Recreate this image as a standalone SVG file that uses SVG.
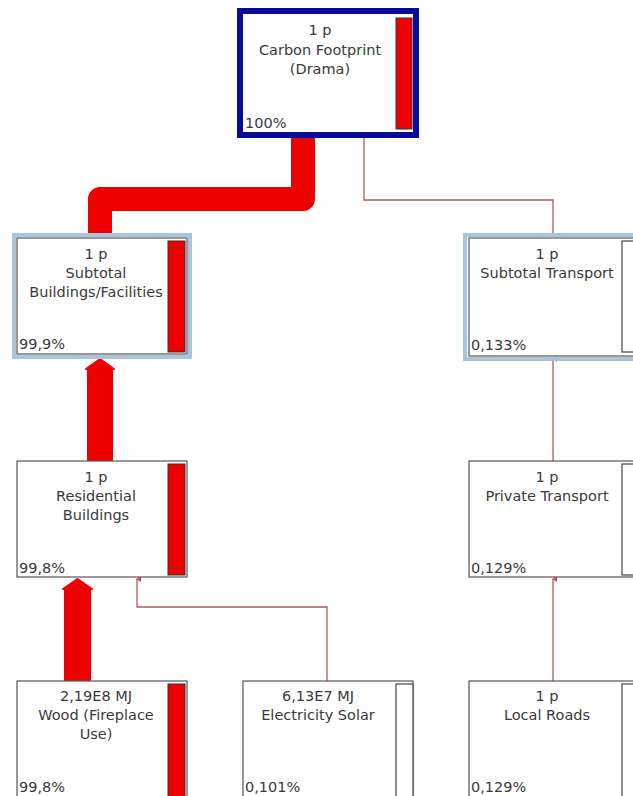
<svg xmlns="http://www.w3.org/2000/svg" width="633" height="796" viewBox="0 0 633 796">
<defs>
<style>
.box{fill:#fff;stroke:#555;stroke-width:1.2}
.bar{fill:#ee0000;stroke:#333;stroke-width:1}
.wbar{fill:#fff;stroke:#444;stroke-width:1.2}
.t{font-family:"DejaVu Sans",Verdana,sans-serif;font-size:14.5px;fill:#3a3a3a;text-anchor:middle}
.p{font-family:"DejaVu Sans",Verdana,sans-serif;font-size:14.5px;fill:#3a3a3a}
.thin{fill:none;stroke:#b05a5a;stroke-width:1.3}
.thick{fill:none;stroke:#ee0000;stroke-width:24;stroke-linejoin:round}
.head{fill:#ee0000;stroke:#ee0000;stroke-width:2;stroke-linejoin:round}
.sel{fill:none;stroke:#a9c4dc;stroke-width:4}
</style>
<marker id="ah" markerWidth="6" markerHeight="6" refX="3" refY="1" orient="auto-start-reverse" markerUnits="userSpaceOnUse">
<path d="M0,5 L3,0 L6,5 Z" fill="#b05a5a"/>
</marker>
</defs>
<rect width="633" height="796" fill="#fff"/>
<g id="connectors">
<path class="thick" d="M303,134 V199 H100 V236"/>
<path class="thin" d="M364,134 V200 H553 V237"/>
<path class="head" d="M88,460 V369 L86,369 L100,359 L114,369 L112,369 V460 Z"/>
<path class="head" d="M65,680 V589 L63,589 L77.5,579 L92,589 L90,589 V680 Z"/>
<path class="thin" d="M327,681 V607 H137 V579" marker-end="url(#ah)"/>
<path class="thin" d="M553,461 V359" marker-end="url(#ah)"/>
<path class="thin" d="M553,681 V579" marker-end="url(#ah)"/>
</g>
<g id="carbon-footprint">
<rect x="240" y="11" width="176" height="124" fill="#fff" stroke="#0a0a9a" stroke-width="6"/>
<rect class="bar" x="396" y="18" width="16" height="111"/>
<text class="t" x="320" y="35">1 p</text>
<text class="t" x="320" y="55">Carbon Footprint</text>
<text class="t" x="320" y="74">(Drama)</text>
<text class="p" x="245" y="128">100%</text>
</g>
<g id="subtotal-buildings">
<rect class="sel" x="14" y="235" width="176" height="122"/>
<rect class="box" x="17" y="238" width="170" height="116"/>
<rect class="bar" x="168" y="241" width="17" height="111"/>
<text class="t" x="96" y="259">1 p</text>
<text class="t" x="96" y="278">Subtotal</text>
<text class="t" x="96" y="297">Buildings/Facilities</text>
<text class="p" x="19" y="349">99,9%</text>
</g>
<g id="subtotal-transport">
<rect class="sel" x="465" y="235" width="176" height="124"/>
<rect class="box" x="469" y="238" width="170" height="118"/>
<rect class="wbar" x="622" y="241" width="17" height="111"/>
<text class="t" x="547" y="259">1 p</text>
<text class="t" x="547" y="278">Subtotal Transport</text>
<text class="p" x="471" y="350">0,133%</text>
</g>
<g id="residential-buildings">
<rect class="box" x="17" y="461" width="170" height="116"/>
<rect class="bar" x="168" y="464" width="17" height="111"/>
<text class="t" x="96" y="482">1 p</text>
<text class="t" x="96" y="501">Residential</text>
<text class="t" x="96" y="520">Buildings</text>
<text class="p" x="19" y="573">99,8%</text>
</g>
<g id="private-transport">
<rect class="box" x="469" y="461" width="170" height="116"/>
<rect class="wbar" x="622" y="464" width="17" height="111"/>
<text class="t" x="547" y="482">1 p</text>
<text class="t" x="547" y="501">Private Transport</text>
<text class="p" x="471" y="573">0,129%</text>
</g>
<g id="wood">
<rect class="box" x="17" y="681" width="170" height="125"/>
<rect class="bar" x="168" y="684" width="17" height="120"/>
<text class="t" x="96" y="701">2,19E8 MJ</text>
<text class="t" x="96" y="720">Wood (Fireplace</text>
<text class="t" x="96" y="739">Use)</text>
<text class="p" x="19" y="792">99,8%</text>
</g>
<g id="electricity-solar">
<rect class="box" x="243" y="681" width="170" height="125"/>
<rect class="wbar" x="396" y="684" width="17" height="120"/>
<text class="t" x="318" y="701">6,13E7 MJ</text>
<text class="t" x="318" y="720">Electricity Solar</text>
<text class="p" x="245" y="792">0,101%</text>
</g>
<g id="local-roads">
<rect class="box" x="469" y="681" width="170" height="125"/>
<rect class="wbar" x="622" y="684" width="17" height="120"/>
<text class="t" x="547" y="701">1 p</text>
<text class="t" x="547" y="720">Local Roads</text>
<text class="p" x="471" y="792">0,129%</text>
</g>
</svg>
